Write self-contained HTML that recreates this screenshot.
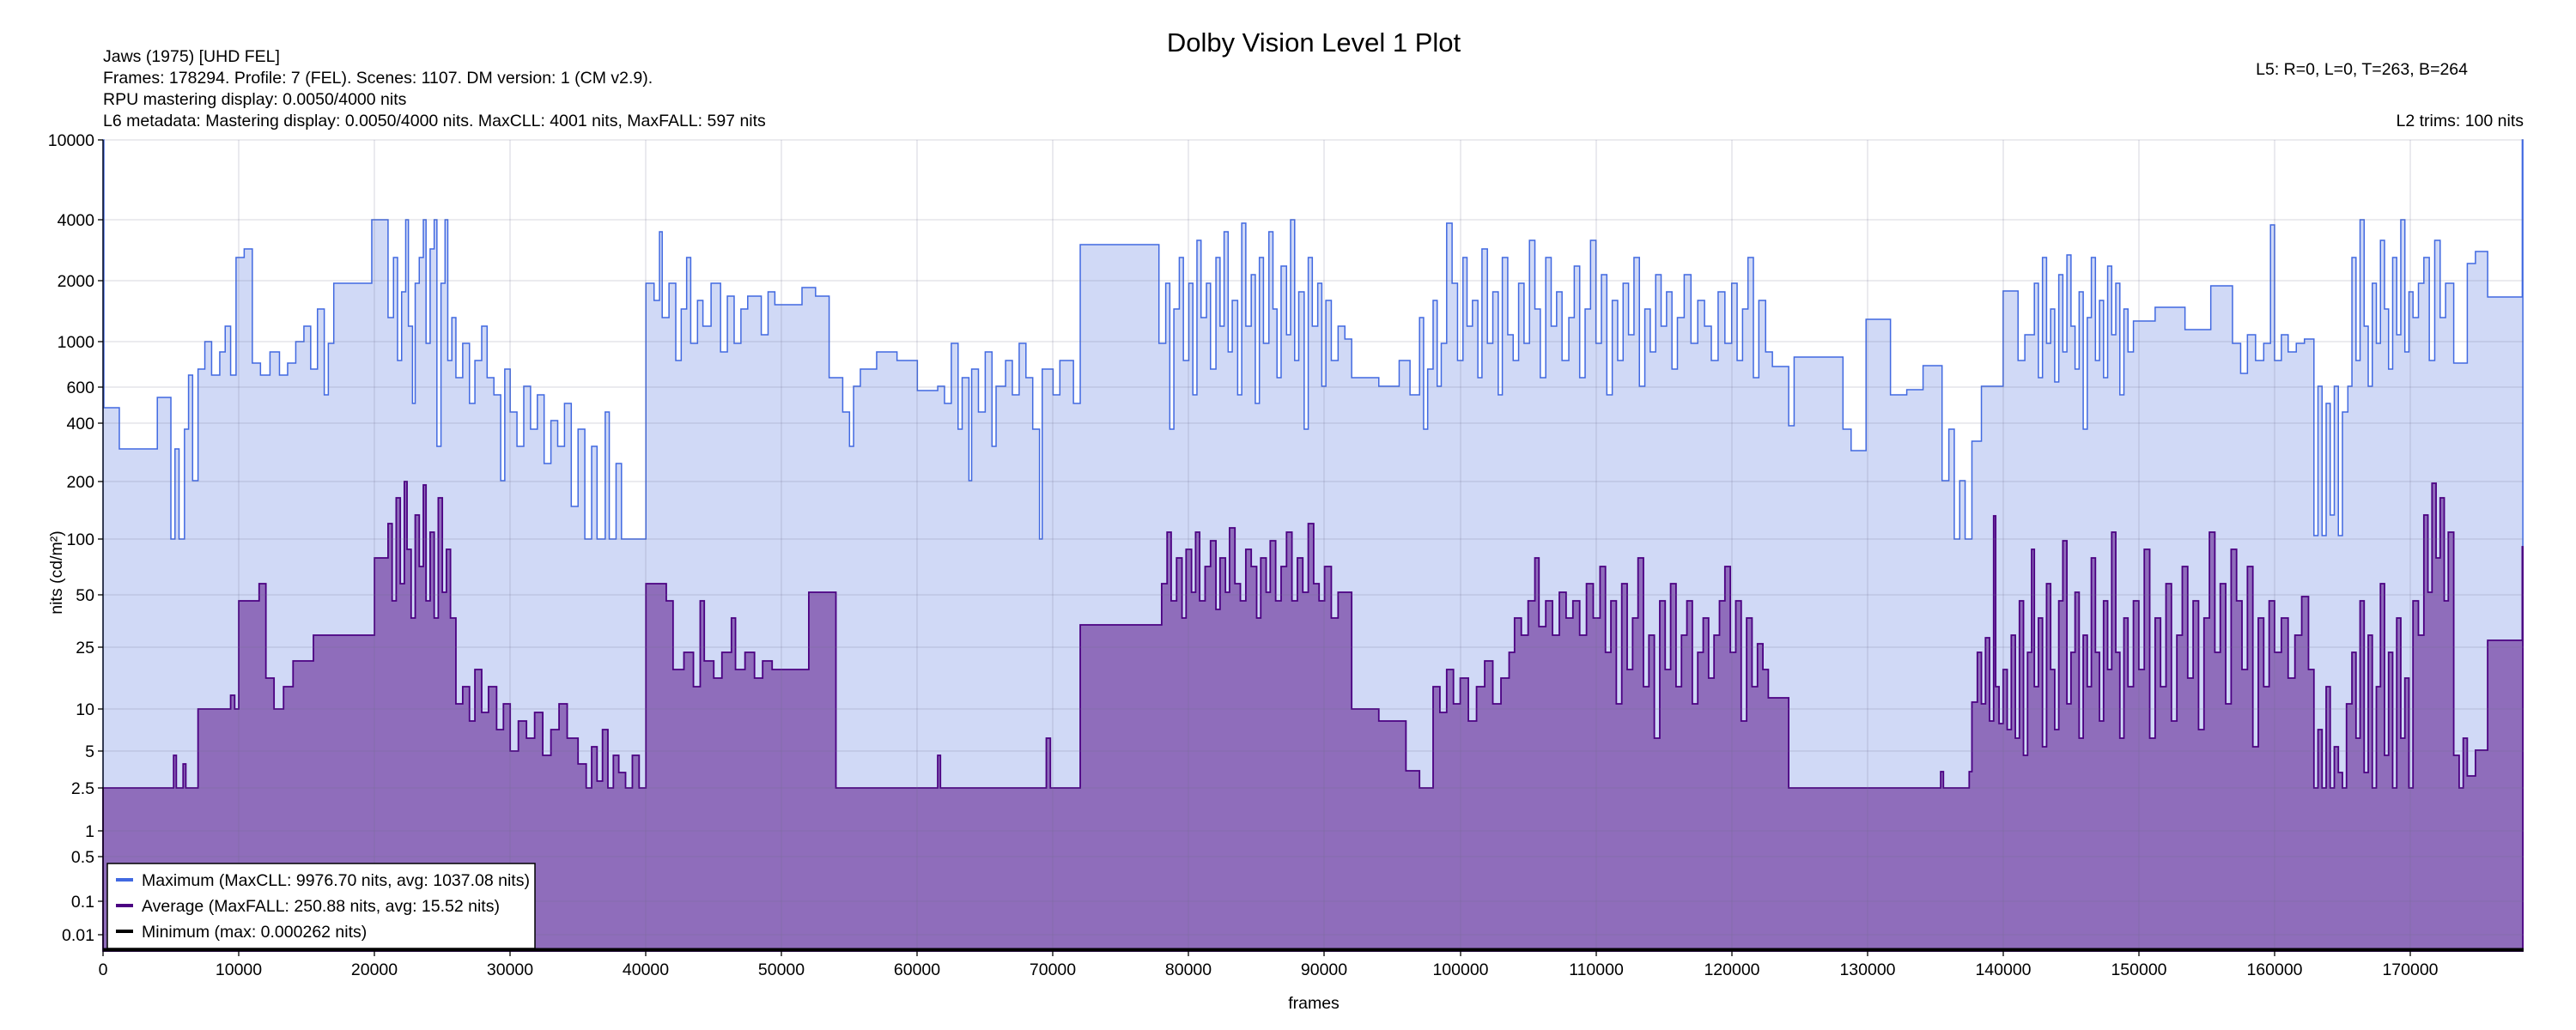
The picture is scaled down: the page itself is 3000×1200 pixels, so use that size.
<!DOCTYPE html>
<html><head><meta charset="utf-8"><style>
html,body{margin:0;padding:0;background:#fff;}
svg{display:block;font-family:"Liberation Sans",sans-serif;}
</style></head><body>
<svg width="3000" height="1200" xmlns="http://www.w3.org/2000/svg">
<rect width="3000" height="1200" fill="#fff"/>
<g transform="translate(120,0) scale(15.806,1)">
<path vector-effect="non-scaling-stroke" fill="#d0d9f6" stroke="#4169e1" stroke-width="1.5" d="M0,1108 V163 H0.06 V475 H1.2 V523 H4 V463 H5 V628 H5.3 V523 H5.6 V628 H6 V500 H6.3 V437 H6.6 V560 H7 V430 H7.5 V398 H8 V437 H8.6 V410 H9 V380 H9.4 V437 H9.8 V300 H10.4 V290 H11 V423 H11.6 V437 H12.3 V410 H13 V437 H13.6 V423 H14.2 V398 H14.8 V380 H15.3 V430 H15.8 V360 H16.3 V460 H16.6 V400 H17 V330 H19.8 V256 H21 V370 H21.4 V300 H21.7 V420 H22 V340 H22.3 V256 H22.5 V380 H22.8 V470 H23 V330 H23.3 V300 H23.6 V256 H23.8 V400 H24.1 V290 H24.4 V256 H24.6 V520 H24.9 V330 H25.2 V256 H25.4 V420 H25.7 V370 H26 V440 H26.5 V400 H27 V470 H27.4 V420 H27.9 V380 H28.3 V440 H28.8 V460 H29.3 V560 H29.6 V430 H30 V480 H30.5 V520 H31 V450 H31.5 V500 H32 V460 H32.5 V540 H33 V490 H33.5 V520 H34 V470 H34.5 V590 H35 V500 H35.5 V628 H36 V520 H36.4 V628 H37 V480 H37.3 V628 H37.8 V540 H38.2 V628 H40 V330 H40.6 V350 H41 V270 H41.2 V370 H41.7 V330 H42.2 V420 H42.6 V360 H43 V300 H43.3 V400 H43.8 V350 H44.2 V380 H44.8 V330 H45.5 V410 H46 V345 H46.5 V400 H47 V360 H47.5 V345 H48.5 V390 H49 V340 H49.5 V355 H51.5 V335 H52.5 V345 H53.5 V440 H54.5 V480 H55 V520 H55.3 V450 H55.8 V430 H57 V410 H58.5 V420 H60 V455 H61.5 V450 H62 V470 H62.5 V400 H63 V500 H63.3 V440 H63.8 V560 H64 V430 H64.5 V480 H65 V410 H65.5 V520 H65.8 V450 H66.5 V420 H67 V460 H67.5 V400 H68 V440 H68.5 V500 H69 V628 H69.2 V430 H70 V460 H70.5 V420 H71.5 V470 H72 V285 H77.8 V400 H78.3 V330 H78.6 V500 H78.9 V360 H79.3 V300 H79.6 V420 H80 V330 H80.3 V460 H80.6 V280 H80.9 V370 H81.3 V330 H81.6 V430 H82 V300 H82.3 V380 H82.6 V270 H82.9 V410 H83.2 V350 H83.6 V460 H83.9 V260 H84.2 V380 H84.6 V320 H84.9 V470 H85.2 V300 H85.5 V400 H85.9 V270 H86.2 V360 H86.5 V440 H86.8 V310 H87.2 V390 H87.5 V256 H87.8 V420 H88.1 V340 H88.5 V500 H88.8 V300 H89.1 V380 H89.5 V330 H89.8 V450 H90.1 V350 H90.5 V420 H91 V380 H91.5 V395 H92 V440 H94 V450 H95.5 V420 H96.3 V460 H97 V370 H97.3 V500 H97.6 V430 H98 V350 H98.3 V450 H98.6 V400 H99 V260 H99.4 V330 H99.8 V420 H100.2 V300 H100.5 V380 H100.9 V350 H101.3 V440 H101.6 V290 H102 V400 H102.4 V340 H102.8 V460 H103.1 V300 H103.5 V390 H103.9 V420 H104.3 V330 H104.7 V400 H105.1 V280 H105.5 V360 H105.9 V440 H106.3 V300 H106.7 V380 H107.1 V340 H107.5 V420 H108 V370 H108.4 V310 H108.8 V440 H109.2 V360 H109.6 V280 H110 V400 H110.4 V320 H110.8 V460 H111.2 V350 H111.6 V420 H112 V330 H112.4 V390 H112.8 V300 H113.2 V450 H113.6 V360 H114 V410 H114.4 V320 H114.8 V380 H115.2 V340 H115.6 V430 H116 V370 H116.5 V320 H117 V400 H117.5 V350 H118 V380 H118.5 V420 H119 V340 H119.5 V400 H120 V330 H120.4 V420 H120.8 V360 H121.2 V300 H121.6 V440 H122 V350 H122.5 V410 H123 V427 H124.2 V496 H124.6 V416 H128.2 V500 H128.8 V525 H129.9 V372 H131.7 V460 H132.9 V454 H134.1 V426 H135.5 V560 H136 V500 H136.4 V628 H136.8 V560 H137.2 V628 H137.7 V514 H138.4 V450 H140 V339 H141.1 V420 H141.6 V390 H142.3 V330 H142.6 V440 H142.9 V300 H143.2 V400 H143.5 V360 H143.8 V445 H144.1 V320 H144.4 V410 H144.7 V297 H145 V380 H145.3 V430 H145.6 V340 H145.9 V500 H146.2 V370 H146.5 V300 H146.8 V420 H147.1 V350 H147.4 V440 H147.7 V310 H148 V390 H148.3 V330 H148.6 V460 H148.9 V360 H149.2 V410 H149.6 V374 H151.2 V358 H153.4 V384 H155.3 V333 H156.9 V400 H157.5 V435 H158 V390 H158.6 V420 H159.2 V400 H159.7 V262 H160 V420 H160.5 V390 H161 V410 H161.6 V400 H162.2 V395 H162.9 V624 H163.2 V450 H163.5 V624 H163.8 V470 H164.1 V600 H164.4 V450 H164.7 V624 H165 V480 H165.4 V450 H165.7 V300 H166 V420 H166.3 V256 H166.6 V380 H166.9 V450 H167.2 V330 H167.5 V400 H167.8 V280 H168.1 V360 H168.4 V430 H168.7 V300 H169 V390 H169.3 V256 H169.6 V410 H169.9 V340 H170.2 V370 H170.6 V330 H171 V300 H171.4 V420 H171.8 V280 H172.2 V370 H172.6 V330 H173.2 V423 H174.2 V307 H174.8 V293 H175.7 V346 H178.25 V163 H178.294 V1108 Z"/>
<path vector-effect="non-scaling-stroke" fill="#8f6dbb" stroke="#4b0082" stroke-width="1.8" d="M0,1108 V918 H5.2 V880 H5.4 V918 H5.9 V890 H6.1 V918 H7 V826 H9.4 V810 H9.7 V826 H10 V700 H11.5 V680 H12 V790 H12.6 V826 H13.3 V800 H14 V770 H15.5 V740 H20 V650 H21 V610 H21.3 V700 H21.6 V580 H21.9 V680 H22.2 V561 H22.4 V640 H22.7 V720 H23 V600 H23.3 V660 H23.6 V565 H23.8 V700 H24.1 V620 H24.4 V720 H24.7 V580 H25 V690 H25.3 V640 H25.6 V720 H26 V820 H26.5 V800 H27 V840 H27.4 V780 H27.9 V830 H28.4 V800 H29 V850 H29.5 V820 H30 V875 H30.6 V840 H31.2 V860 H31.8 V830 H32.4 V880 H33 V850 H33.6 V820 H34.2 V860 H35 V890 H35.6 V918 H36 V870 H36.4 V910 H36.8 V850 H37.2 V918 H37.6 V880 H38 V900 H38.5 V918 H39 V880 H39.5 V918 H40 V680 H41.5 V700 H42 V780 H42.8 V760 H43.5 V800 H44 V700 H44.3 V770 H45 V790 H45.6 V760 H46.3 V720 H46.6 V780 H47.3 V760 H48 V790 H48.6 V770 H49.3 V780 H52 V690 H54 V918 H61.5 V880 H61.7 V918 H69.5 V860 H69.8 V918 H72 V728 H78 V680 H78.4 V620 H78.7 V700 H79.1 V650 H79.5 V720 H79.8 V640 H80.2 V690 H80.5 V620 H80.8 V700 H81.2 V660 H81.6 V630 H82 V710 H82.3 V650 H82.7 V690 H83 V615 H83.4 V680 H83.8 V700 H84.2 V640 H84.6 V660 H85 V720 H85.3 V650 H85.7 V690 H86 V630 H86.4 V700 H86.8 V660 H87.2 V620 H87.6 V700 H88 V650 H88.4 V690 H88.8 V610 H89.2 V680 H89.6 V700 H90 V660 H90.5 V720 H91 V690 H92 V826 H94 V840 H96 V898 H97 V918 H98 V800 H98.5 V830 H99 V780 H99.5 V820 H100 V790 H100.6 V840 H101.2 V800 H101.8 V770 H102.4 V820 H103 V790 H103.6 V760 H104 V720 H104.5 V740 H105 V700 H105.5 V650 H105.8 V730 H106.3 V700 H106.8 V740 H107.3 V690 H107.8 V720 H108.3 V700 H108.8 V740 H109.3 V680 H109.8 V720 H110.3 V660 H110.7 V760 H111.1 V700 H111.5 V820 H111.9 V680 H112.3 V780 H112.7 V720 H113.1 V650 H113.5 V800 H113.9 V740 H114.3 V860 H114.7 V700 H115.1 V780 H115.5 V680 H115.9 V800 H116.3 V740 H116.7 V700 H117.1 V820 H117.5 V760 H117.9 V720 H118.3 V790 H118.7 V740 H119.1 V700 H119.5 V660 H119.9 V760 H120.3 V700 H120.7 V840 H121.1 V720 H121.5 V800 H121.9 V750 H122.3 V780 H122.7 V813 H124.2 V918 H135.4 V899 H135.6 V918 H137.5 V899 H137.7 V818 H138.1 V760 H138.4 V820 H138.7 V743 H139 V840 H139.3 V601 H139.45 V800 H139.7 V843 H140 V780 H140.3 V850 H140.6 V740 H140.9 V860 H141.2 V700 H141.5 V880 H141.8 V760 H142.1 V640 H142.3 V800 H142.6 V720 H142.9 V870 H143.2 V680 H143.5 V780 H143.8 V850 H144.1 V700 H144.4 V630 H144.7 V820 H145 V760 H145.3 V690 H145.6 V860 H145.9 V740 H146.2 V800 H146.5 V650 H146.8 V760 H147.1 V840 H147.4 V700 H147.7 V780 H148 V620 H148.3 V760 H148.6 V860 H148.9 V720 H149.2 V800 H149.6 V700 H150 V780 H150.4 V640 H150.8 V860 H151.2 V720 H151.6 V800 H152 V680 H152.4 V840 H152.8 V740 H153.2 V660 H153.6 V790 H154 V700 H154.4 V850 H154.8 V720 H155.2 V620 H155.6 V760 H156 V680 H156.4 V820 H156.8 V640 H157.2 V700 H157.6 V780 H158 V660 H158.4 V870 H158.8 V720 H159.2 V800 H159.6 V700 H160 V760 H160.5 V720 H161 V790 H161.5 V740 H162 V695 H162.5 V780 H162.9 V918 H163.2 V850 H163.5 V918 H163.8 V800 H164.1 V918 H164.4 V870 H164.7 V900 H165 V918 H165.3 V820 H165.7 V760 H166 V860 H166.3 V700 H166.6 V900 H166.9 V740 H167.2 V918 H167.5 V800 H167.8 V680 H168.1 V880 H168.4 V760 H168.7 V918 H169 V720 H169.3 V860 H169.6 V790 H169.9 V918 H170.2 V700 H170.6 V740 H171 V600 H171.3 V690 H171.6 V563 H171.9 V650 H172.2 V580 H172.5 V700 H172.8 V620 H173.2 V880 H173.6 V918 H173.9 V860 H174.2 V904 H174.8 V874 H175.7 V746 H178.25 V637 H178.294 V1108 Z"/>
</g>
<g stroke="rgba(110,110,140,0.22)" stroke-width="1.3">
<line x1="120" x2="2939" y1="163" y2="163"/><line x1="120" x2="2939" y1="256" y2="256"/><line x1="120" x2="2939" y1="327" y2="327"/><line x1="120" x2="2939" y1="398" y2="398"/><line x1="120" x2="2939" y1="451" y2="451"/><line x1="120" x2="2939" y1="493" y2="493"/><line x1="120" x2="2939" y1="561" y2="561"/><line x1="120" x2="2939" y1="628" y2="628"/><line x1="120" x2="2939" y1="693" y2="693"/><line x1="120" x2="2939" y1="754" y2="754"/><line x1="120" x2="2939" y1="826" y2="826"/><line x1="120" x2="2939" y1="875" y2="875"/><line x1="120" x2="2939" y1="918" y2="918"/><line x1="120" x2="2939" y1="968" y2="968"/><line x1="120" x2="2939" y1="998" y2="998"/><line x1="120" x2="2939" y1="1050" y2="1050"/><line x1="120" x2="2939" y1="1089" y2="1089"/>
<line x1="278" x2="278" y1="163" y2="1108"/><line x1="436" x2="436" y1="163" y2="1108"/><line x1="594" x2="594" y1="163" y2="1108"/><line x1="752" x2="752" y1="163" y2="1108"/><line x1="910" x2="910" y1="163" y2="1108"/><line x1="1068" x2="1068" y1="163" y2="1108"/><line x1="1226" x2="1226" y1="163" y2="1108"/><line x1="1384" x2="1384" y1="163" y2="1108"/><line x1="1542" x2="1542" y1="163" y2="1108"/><line x1="1701" x2="1701" y1="163" y2="1108"/><line x1="1859" x2="1859" y1="163" y2="1108"/><line x1="2017" x2="2017" y1="163" y2="1108"/><line x1="2175" x2="2175" y1="163" y2="1108"/><line x1="2333" x2="2333" y1="163" y2="1108"/><line x1="2491" x2="2491" y1="163" y2="1108"/><line x1="2649" x2="2649" y1="163" y2="1108"/><line x1="2807" x2="2807" y1="163" y2="1108"/>
</g>
<line x1="120" x2="2939" y1="1106" y2="1106" stroke="#000" stroke-width="3"/>
<g stroke="#000" stroke-width="1.3">
<line x1="120" x2="120" y1="163" y2="1108"/><line x1="120" x2="2939" y1="1108" y2="1108"/>
<line x1="114" x2="120" y1="163" y2="163"/><line x1="114" x2="120" y1="256" y2="256"/><line x1="114" x2="120" y1="327" y2="327"/><line x1="114" x2="120" y1="398" y2="398"/><line x1="114" x2="120" y1="451" y2="451"/><line x1="114" x2="120" y1="493" y2="493"/><line x1="114" x2="120" y1="561" y2="561"/><line x1="114" x2="120" y1="628" y2="628"/><line x1="114" x2="120" y1="693" y2="693"/><line x1="114" x2="120" y1="754" y2="754"/><line x1="114" x2="120" y1="826" y2="826"/><line x1="114" x2="120" y1="875" y2="875"/><line x1="114" x2="120" y1="918" y2="918"/><line x1="114" x2="120" y1="968" y2="968"/><line x1="114" x2="120" y1="998" y2="998"/><line x1="114" x2="120" y1="1050" y2="1050"/><line x1="114" x2="120" y1="1089" y2="1089"/>
<line x1="120" x2="120" y1="1108" y2="1114"/><line x1="278" x2="278" y1="1108" y2="1114"/><line x1="436" x2="436" y1="1108" y2="1114"/><line x1="594" x2="594" y1="1108" y2="1114"/><line x1="752" x2="752" y1="1108" y2="1114"/><line x1="910" x2="910" y1="1108" y2="1114"/><line x1="1068" x2="1068" y1="1108" y2="1114"/><line x1="1226" x2="1226" y1="1108" y2="1114"/><line x1="1384" x2="1384" y1="1108" y2="1114"/><line x1="1542" x2="1542" y1="1108" y2="1114"/><line x1="1701" x2="1701" y1="1108" y2="1114"/><line x1="1859" x2="1859" y1="1108" y2="1114"/><line x1="2017" x2="2017" y1="1108" y2="1114"/><line x1="2175" x2="2175" y1="1108" y2="1114"/><line x1="2333" x2="2333" y1="1108" y2="1114"/><line x1="2491" x2="2491" y1="1108" y2="1114"/><line x1="2649" x2="2649" y1="1108" y2="1114"/><line x1="2807" x2="2807" y1="1108" y2="1114"/>
</g>
<g font-size="19.5" fill="#000" text-anchor="end">
<text x="110" y="170">10000</text><text x="110" y="263">4000</text><text x="110" y="334">2000</text><text x="110" y="405">1000</text><text x="110" y="458">600</text><text x="110" y="500">400</text><text x="110" y="568">200</text><text x="110" y="635">100</text><text x="110" y="700">50</text><text x="110" y="761">25</text><text x="110" y="833">10</text><text x="110" y="882">5</text><text x="110" y="925">2.5</text><text x="110" y="975">1</text><text x="110" y="1005">0.5</text><text x="110" y="1057">0.1</text><text x="110" y="1096">0.01</text>
</g>
<g font-size="19.5" fill="#000" text-anchor="middle">
<text x="120" y="1136">0</text><text x="278" y="1136">10000</text><text x="436" y="1136">20000</text><text x="594" y="1136">30000</text><text x="752" y="1136">40000</text><text x="910" y="1136">50000</text><text x="1068" y="1136">60000</text><text x="1226" y="1136">70000</text><text x="1384" y="1136">80000</text><text x="1542" y="1136">90000</text><text x="1701" y="1136">100000</text><text x="1859" y="1136">110000</text><text x="2017" y="1136">120000</text><text x="2175" y="1136">130000</text><text x="2333" y="1136">140000</text><text x="2491" y="1136">150000</text><text x="2649" y="1136">160000</text><text x="2807" y="1136">170000</text>
</g>
<text x="1530" y="60" font-size="31" text-anchor="middle" fill="#000">Dolby Vision Level 1 Plot</text>
<g font-size="19.5" fill="#000">
<text x="120" y="72">Jaws (1975) [UHD FEL]</text>
<text x="120" y="97">Frames: 178294. Profile: 7 (FEL). Scenes: 1107. DM version: 1 (CM v2.9).</text>
<text x="120" y="122">RPU mastering display: 0.0050/4000 nits</text>
<text x="120" y="147">L6 metadata: Mastering display: 0.0050/4000 nits. MaxCLL: 4001 nits, MaxFALL: 597 nits</text>
<text x="2874" y="87" text-anchor="end">L5: R=0, L=0, T=263, B=264</text>
<text x="2939" y="147" text-anchor="end">L2 trims: 100 nits</text>
<text x="1530" y="1175" text-anchor="middle">frames</text>
<text transform="translate(72,667) rotate(-90)" text-anchor="middle">nits (cd/m²)</text>
</g>
<rect x="125" y="1006" width="498" height="99" fill="#fff" stroke="#000" stroke-width="1.5"/>
<line x1="135" y1="1025" x2="155" y2="1025" stroke="#4169e1" stroke-width="4"/>
<line x1="135" y1="1055" x2="155" y2="1055" stroke="#4b0082" stroke-width="4"/>
<line x1="135" y1="1085" x2="155" y2="1085" stroke="#000" stroke-width="4"/>
<g font-size="19.5" fill="#000"><text x="165" y="1032">Maximum (MaxCLL: 9976.70 nits, avg: 1037.08 nits)</text>
<text x="165" y="1062">Average (MaxFALL: 250.88 nits, avg: 15.52 nits)</text>
<text x="165" y="1092">Minimum (max: 0.000262 nits)</text></g>
</svg>
</body></html>
